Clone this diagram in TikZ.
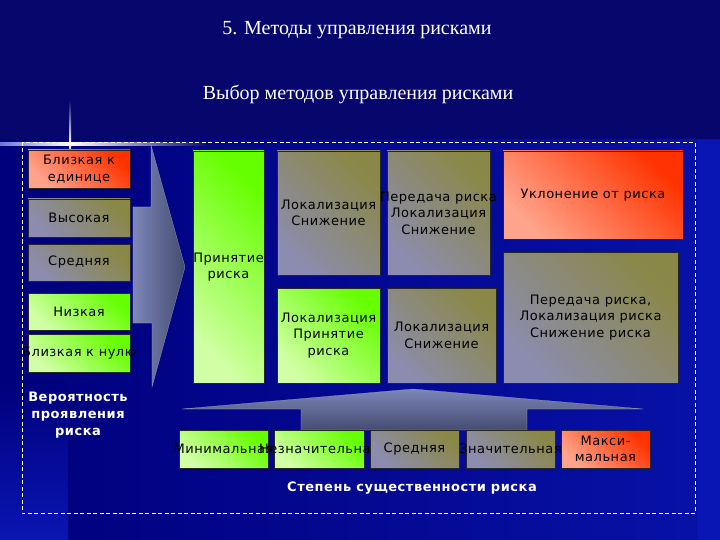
\documentclass[tikz,border=0pt]{standalone}
\usepackage{fontspec}
\setmainfont{DejaVu Sans}
\newfontfamily\cellfont[LetterSpace=4]{DejaVu Sans}
\newfontfamily\titlefont{Liberation Serif}
\newcommand\spill[1]{\makebox[0pt]{#1}}
\definecolor{navy}{HTML}{06066C}
\definecolor{deepblue}{HTML}{00007C}
\definecolor{brightblue}{HTML}{0A16B2}
\definecolor{grnhi}{HTML}{66FF00}
\definecolor{grnlo}{HTML}{D2FFA6}
\definecolor{redhi}{HTML}{FF3300}
\definecolor{redlo}{HTML}{FFA48C}
\definecolor{gryhi}{HTML}{8A8846}
\definecolor{grylo}{HTML}{8C8CB0}
\definecolor{arrowhi}{HTML}{7C86B8}
\definecolor{arrowlo}{HTML}{454C70}
\tikzset{
  cell/.style = {draw = black!85, thin, inner sep = 0pt, align = center,
    font = \cellfont\fontsize{13}{16.5}\selectfont, text = black},
  greencell/.style = {cell, top color = grnhi, bottom color = grnlo, shading angle = -45},
  redcell/.style = {cell, top color = redhi, bottom color = redlo, shading angle = -45},
  greycell/.style = {cell, top color = gryhi, bottom color = grylo, shading angle = -45},
  caption/.style = {align = center, text = white,
    font = \cellfont\bfseries\fontsize{13}{17}\selectfont},
  heading/.style = {text = white, font = \titlefont\fontsize{20}{22}\selectfont}
}
\begin{document}
\begin{tikzpicture}[x = 1pt, y = -1pt]
  % background
  \fill [navy] (0,0) rectangle (720,540);
  \shade [left color = deepblue, right color = brightblue!80!deepblue] (0,140) rectangle (720,540);
  \fill [brightblue] (697,140) rectangle (720,540);
  \shade [top color = deepblue, bottom color = brightblue] (0,380) rectangle (68,540);
  \shade [left color = brightblue!60!white, right color = white] (0,143) rectangle (70,145.5);
  \shade [left color = white, right color = navy] (70,143) rectangle (210,145.5);
  \shade [top color = navy, bottom color = white] (69,100) rectangle (71.2,144);
  \shade [top color = white, bottom color = navy] (69,144) rectangle (71.2,170);
  \useasboundingbox (0,0) rectangle (720,540);

  % titles
  \node [heading] (title) at (357,30) {5. Методы управления рисками};
  \node [heading] (subtitle) at (358,95) {Выбор методов управления рисками};

  % frame
  \draw [white, thin, dash pattern = on 4pt off 2.5pt] (22,142) rectangle (695,513);

  % arrows
  \shade [left color = arrowhi, right color = arrowlo, draw = arrowhi!70!white, very thin]
    (133,207) -- (151,207) -- (151,145) -- (185,267) -- (152,387) -- (152,323) -- (133,323) -- cycle;
  \shade [top color = arrowhi, bottom color = arrowlo, draw = arrowhi!70!white, very thin]
    (182,409) -- (413,389) -- (643,409) -- (527,409) -- (527,430) -- (301,430) -- (301,409) -- cycle;

  % probability scale
  \node [redcell, minimum width = 102, minimum height = 38] (p1) at (79,169) {Близкая к\\единице};
  \node [greycell, minimum width = 102, minimum height = 38] (p2) at (79,218) {Высокая};
  \node [greycell, minimum width = 102, minimum height = 37] (p3) at (79,262.5) {Средняя};
  \node [greencell, minimum width = 102, minimum height = 37] (p4) at (79,311.5) {Низкая};
  \node [greencell, minimum width = 102, minimum height = 38] (p5) at (79,353) {\spill{Близкая к нулю}};
  \node [caption] (prob) at (78,415) {Вероятность\\проявления\\риска};

  % methods
  \node [greencell, minimum width = 71, minimum height = 232] (accept) at (228.5,267) {\spill{Принятие}\\риска};
  \node [greycell, minimum width = 103, minimum height = 124] (m1) at (328.5,213) {Локализация\\Снижение};
  \node [greycell, minimum width = 103, minimum height = 124] (m2) at (438.5,213) {\spill{Передача риска}\\Локализация\\Снижение};
  \node [greencell, minimum width = 103, minimum height = 95] (m3) at (328.5,335.5) {Локализация\\Принятие\\риска};
  \node [greycell, minimum width = 109, minimum height = 95] (m4) at (441.5,335.5) {Локализация\\Снижение};
  \node [redcell, minimum width = 180, minimum height = 88] (avoid) at (593,195) {Уклонение от риска};
  \node [greycell, minimum width = 175, minimum height = 131] (transfer) at (590.5,317.5) {Передача риска,\\Локализация риска\\Снижение риска};

  % severity scale
  \node [greencell, minimum width = 89, minimum height = 38] (s1) at (223.5,449) {\spill{Минимальная}};
  \node [greencell, minimum width = 90, minimum height = 38] (s2) at (319,449) {\spill{Незначительная}};
  \node [greycell, minimum width = 89, minimum height = 38] (s3) at (414.5,449) {Средняя};
  \node [greycell, minimum width = 89, minimum height = 38] (s4) at (510.5,449) {\spill{Значительная}};
  \node [redcell, minimum width = 89, minimum height = 38] (s5) at (605.5,449) {Макси-\\мальная};
  \node [caption] (severity) at (412,488) {Степень существенности риска};
\end{tikzpicture}
\end{document}
